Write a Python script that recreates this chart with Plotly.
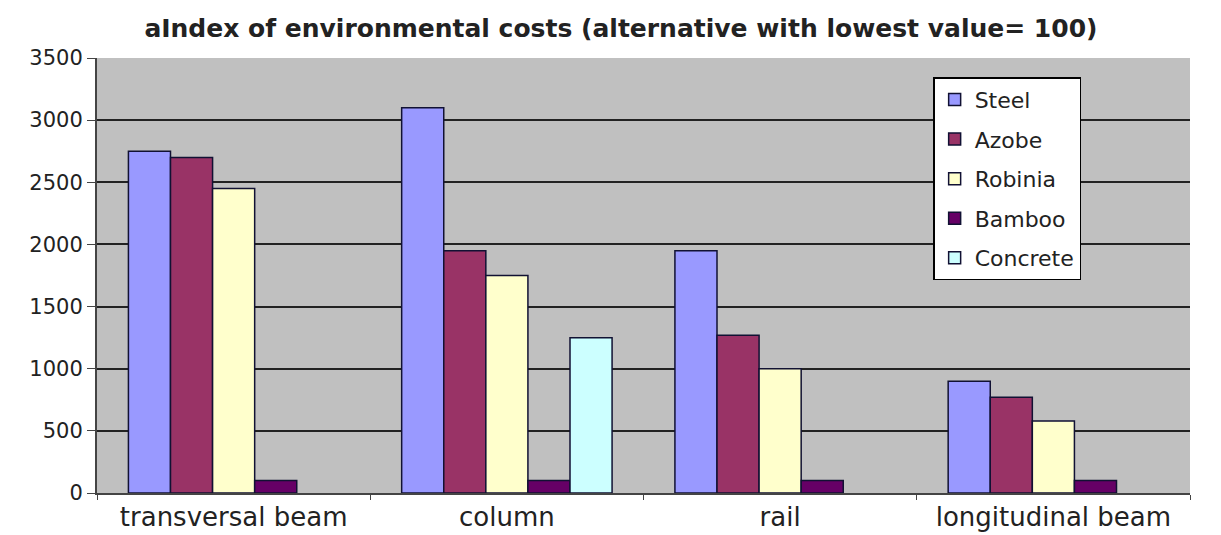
import plotly.graph_objects as go

categories = ["transversal beam", "column", "rail", "longitudinal beam"]
series_names = ["Steel", "Azobe", "Robinia", "Bamboo", "Concrete"]
steel = [2750, 3100, 1950, 900]
azobe = [2700, 1950, 1270, 770]
robinia = [2450, 1750, 1000, 580]
bamboo = [100, 100, 100, 100]
concrete = [None, 1250, None, None]
colors = ["#9999FF", "#993366", "#FFFFCC", "#660066", "#CCFFFF"]
y_ticks = [0, 500, 1000, 1500, 2000, 2500, 3000, 3500]

fig = go.Figure()
for name, vals, col in zip(series_names, [steel, azobe, robinia, bamboo, concrete], colors):
    fig.add_trace(go.Bar(
        name=name, x=categories, y=vals, legendgroup=name,
        marker=dict(color=col, line=dict(color="#111133", width=1.5)),
    ))

fig.update_layout(
    width=1221, height=535,
    barmode="group", bargap=0.23, bargroupgap=0,
    paper_bgcolor="white", plot_bgcolor="#C0C0C0",
    margin=dict(l=89, r=39, t=50, b=50),
    font=dict(family="DejaVu Sans, Verdana, sans-serif", color="#222222"),
    title=dict(text="<b>aIndex of environmental costs (alternative with lowest value= 100)</b>",
               x=0.502, xanchor="center", y=0.962, yanchor="middle",
               font=dict(size=25, color="#222222")),
    legend=dict(x=0.765, xanchor="left", y=0.956, yanchor="top",
                bgcolor="white", bordercolor="black", borderwidth=1.5,
                font=dict(size=22), tracegroupgap=8, traceorder="grouped"),
    xaxis=dict(showline=True, linecolor="#444444", linewidth=2, automargin=False,
               ticks="outside", tickson="boundaries", ticklen=5, tickcolor="#444444",
               tickfont=dict(size=26), showgrid=False),
    yaxis=dict(range=[0, 3500], tickvals=y_ticks, showline=True, linecolor="#444444",
               linewidth=2, ticks="outside", ticklen=8, tickcolor="#444444", automargin=False,
               gridcolor="#222222", gridwidth=1.5, zeroline=False,
               tickfont=dict(size=21)),
)

fig.write_html("out.html")
